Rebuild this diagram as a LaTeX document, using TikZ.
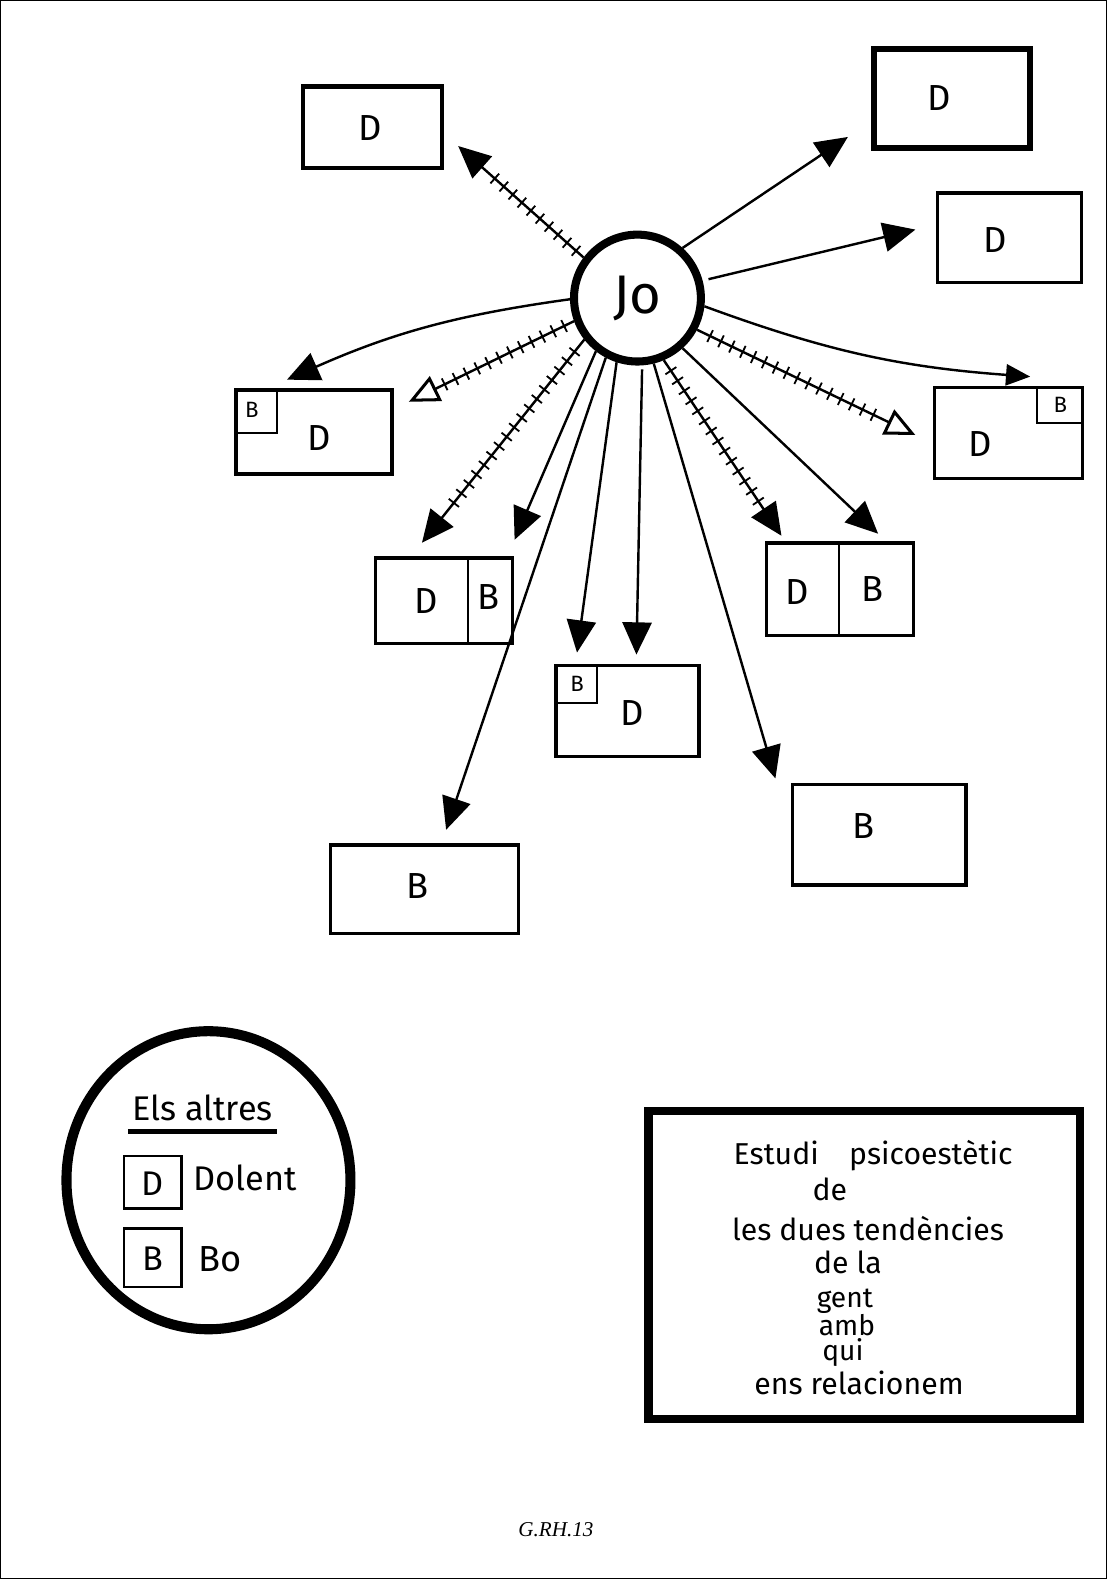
\documentclass[tikz,border=0pt]{standalone}
\usepackage{fontspec}
\setmainfont{Fira Sans}
\newfontfamily\tnr{Liberation Serif}
\usetikzlibrary{arrows.meta,shapes.geometric,decorations.markings}
\newcommand\fs[1]{\fontsize{#1}{#1}\selectfont}
\begin{document}
\begin{tikzpicture}[x=1pt,y=-1pt,
  box/.style={draw, line width=3.5pt, inner sep=0pt, outer sep=0pt, rectangle},
  lab/.style={inner sep=0pt, font=\fs{36}},
  smalllab/.style={inner sep=0pt, font=\fs{22}},
  conn/.style={line width=2.4pt, -{Triangle[length=32pt,width=29pt]}},
  connsmall/.style={line width=2.4pt, -{Triangle[length=24pt,width=21pt]}},
  openhead/.style={line width=2.4pt, -{Triangle[open,length=30pt,width=27pt,line width=3pt]}},
  hatch/.style={postaction={decorate}, decoration={markings,
      mark=between positions 0.06 and #1 step 12pt with {\draw[-, line width=1.8pt] (0pt,-6.5pt) -- (0pt,6.5pt);}}},
  txt/.style={inner sep=0pt, anchor=base, font=\fs{30}},
  txts/.style={inner sep=0pt, anchor=base, font=\fs{28}},
  thin/.style={line width=2pt}
]
\useasboundingbox (0,0) rectangle (1099,1568);
\draw[line width=1.2pt] (0.6,0.6) rectangle (1098.4,1567.4);

% central node
\node[circle, draw, line width=8pt, minimum size=126pt, inner sep=0pt, font=\fs{54}] (jo) at (633,296) {Jo};

% boxes
\node[box, line width=4.5pt, minimum width=138pt, minimum height=81pt] (b1) at (370,126.5) {};
\node[lab] (b1d) at (368,127) {D};
\node[box, line width=6pt, minimum width=155pt, minimum height=98pt] (b2) at (945.5,97.5) {};
\node[lab] (b2d) at (933,97) {D};
\node[box, minimum width=143pt, minimum height=89pt] (b3) at (1002.5,236) {};
\node[lab] (b3d) at (988,238) {D};
\node[box, line width=4pt, minimum width=155pt, minimum height=84pt] (b4) at (312,429) {};
\draw[thin] ([xshift=41pt]b4.north west) |- ([yshift=-43pt]b4.north west);
\node[smalllab] (b4b) at (250,407) {B};
\node[lab] (b4d) at (317,435) {D};
\node[box, minimum width=147pt, minimum height=90pt] (b5) at (1001.5,430) {};
\draw[thin] ([xshift=-45pt]b5.north east) |- ([yshift=-35pt]b5.north east);
\node[smalllab] (b5b) at (1053,402) {B};
\node[lab] (b5d) at (973,441) {D};
\node[box, minimum width=136pt, minimum height=85pt] (b6) at (441,596.5) {};
\draw[thin] ([xshift=24pt]b6.north) -- ([xshift=24pt]b6.south);
\node[lab] (b6d) at (423,597) {D};
\node[lab] (b6b) at (485,593) {B};
\node[box, minimum width=146pt, minimum height=92pt] (b7) at (834,585) {};
\draw[thin] ([xshift=-1pt]b7.north) -- ([xshift=-1pt]b7.south);
\node[lab] (b7d) at (792,588) {D};
\node[lab] (b7b) at (866,585) {B};
\node[box, minimum width=142pt, minimum height=90pt] (b8) at (623,706) {};
\draw[thin] ([xshift=41pt]b8.north west) |- ([yshift=-37pt]b8.north west);
\node[smalllab] (b8b) at (573,679) {B};
\node[lab] (b8d) at (628,708) {D};
\node[box, minimum width=187pt, minimum height=88pt] (b9) at (421.5,883) {};
\node[lab] (b9b) at (415,880) {B};
\node[box, minimum width=172pt, minimum height=100pt] (b10) at (873,829) {};
\node[lab] (b10b) at (857,820) {B};

% arrow tips
\coordinate (t1) at (455,145);
\coordinate (t2) at (842,136);
\coordinate (t3) at (909,228);
\coordinate (t4) at (285,377);
\coordinate (t5) at (406,399);
\coordinate (t6) at (419,539);
\coordinate (t7) at (511,536);
\coordinate (t8) at (443,824);
\coordinate (t9) at (573,648);
\coordinate (t10) at (632,650);
\coordinate (t11) at (776,532);
\coordinate (t12) at (872,530);
\coordinate (t13) at (770,773);
\coordinate (t14) at (909,432);
\coordinate (t15) at (1023,374);

% connectors
\draw[conn, hatch=0.76] (jo.143) -- (t1);
\draw[conn] (jo.48) -- (t2);
\draw[conn, shorten <=6pt] (jo.15) -- (t3);
\draw[conn] (jo.181) to[bend right=8] (t4);
\draw[openhead, hatch=0.8] (jo.200) -- (t5);
\draw[conn, hatch=0.84] (jo.218) -- (t6);
\draw[conn] (jo.232) -- (t7);
\draw[conn] (jo.242) -- (t8);
\draw[conn] (jo.252) -- (t9);
\draw[conn, shorten <=4pt] (jo.274) -- (t10);
\draw[conn] (jo.284) -- (t13);
\draw[conn, hatch=0.82] (jo.293) -- (t11);
\draw[conn] (jo.312) -- (t12);
\draw[openhead, hatch=0.83] (jo.332) -- (t14);
\draw[connsmall] (jo.353) to[bend right=8] (t15);

% legend
\node[ellipse, draw, line width=10pt, minimum width=282pt, minimum height=296pt, inner sep=0pt] (leg) at (207,1172) {};
\node[lab, font=\fs{34}] (els) at (201,1100) {Els altres};
\draw[line width=5pt] ([xshift=-4pt,yshift=-10pt]els.south west) -- ([xshift=4pt,yshift=-10pt]els.south east);
\node[box, line width=2.5pt, minimum width=57pt, minimum height=52pt] (ld) at (151.5,1174) {};
\node[lab, font=\fs{34}] (ldl) at (151.5,1175) {D};
\node[lab, anchor=west, font=\fs{34}] (dolent) at (192,1170) {Dolent};
\node[box, line width=2.5pt, minimum width=57pt, minimum height=58pt] (lb) at (151.5,1249) {};
\node[lab, font=\fs{34}] (lbl) at (151.5,1250) {B};
\node[lab, anchor=west, font=\fs{36}] (bo) at (197,1250) {Bo};

% title box
\node[box, line width=8pt, minimum width=428pt, minimum height=306pt] (tb) at (858,1256) {};
\node[txt] (l1) at (867,1156) {Estudi\hspace{30pt}psicoestètic};
\node[txt] (l2) at (824,1192) {de};
\node[txt] (l3) at (862,1232) {les dues tendències};
\node[txt] (l4) at (842,1265) {de la};
\node[txts] (l5) at (839,1298) {gent};
\node[txts] (l6) at (841,1326) {amb};
\node[txts] (l7) at (837,1351) {qui};
\node[txt] (l8) at (853,1385) {ens relacionem};

% signature
\node[inner sep=0pt, font=\tnr\itshape\fs{21}] (sig) at (552,1519) {G.RH.13};
\end{tikzpicture}
\end{document}
